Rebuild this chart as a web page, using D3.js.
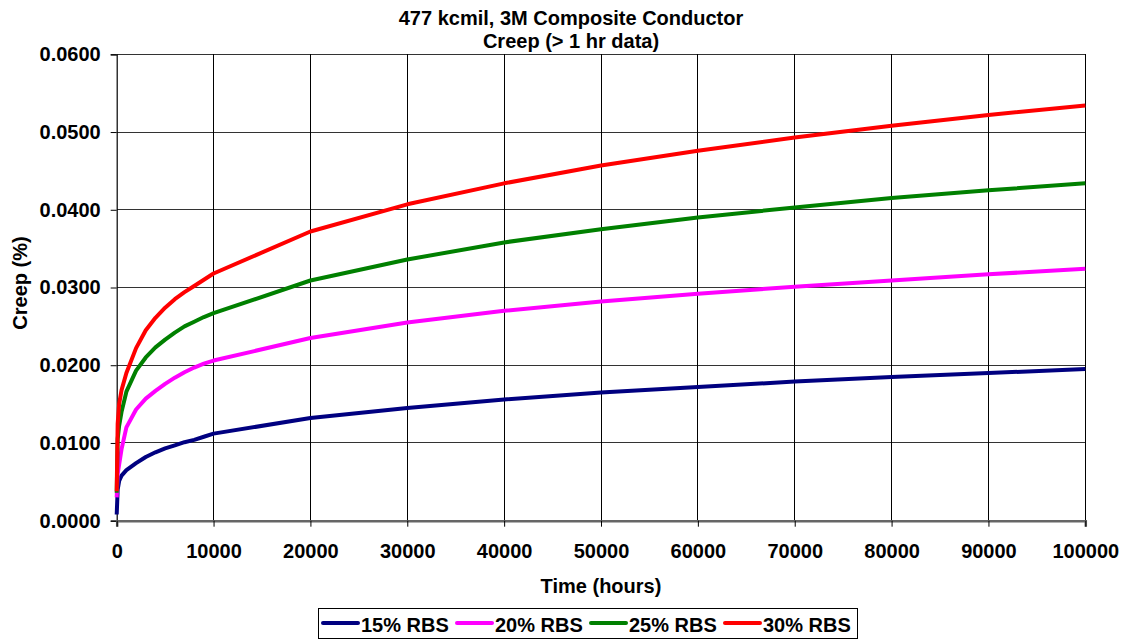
<!DOCTYPE html>
<html><head><meta charset="utf-8">
<script src="https://cdn.jsdelivr.net/npm/d3@7"></script>
<style>body{margin:0;background:#fff;} text{font-family:"Liberation Sans",Arial,sans-serif;font-weight:bold;}</style>
</head><body>
<svg id="c" width="1125" height="640"></svg>
<script>
const hours = [1,100,250,500,1000,2000,3000,4000,5000,6000,7000,8000,9000,10000,20000,30000,40000,50000,60000,70000,80000,90000,100000];
const rbs15 = [0.0008,0.0040,0.0051,0.0058,0.0065,0.0074,0.0082,0.0088,0.0093,0.0097,0.0101,0.0104,0.0108,0.0112,0.0132,0.0145,0.0156,0.0165,0.0172,0.0179,0.0185,0.0190,0.0195];
const rbs20 = [0.0030,0.0060,0.0072,0.0092,0.0120,0.0143,0.0157,0.0167,0.0176,0.0184,0.0191,0.0197,0.0202,0.0206,0.0235,0.0255,0.0270,0.0282,0.0292,0.0301,0.0309,0.0317,0.0324];
const rbs25 = [0.0036,0.0105,0.0122,0.0140,0.0166,0.0193,0.0210,0.0223,0.0233,0.0242,0.0250,0.0256,0.0262,0.0267,0.0309,0.0336,0.0358,0.0375,0.0390,0.0403,0.0415,0.0425,0.0434];
const rbs30 = [0.0038,0.0125,0.0150,0.0168,0.0190,0.0222,0.0245,0.0261,0.0274,0.0285,0.0294,0.0302,0.0310,0.0318,0.0372,0.0407,0.0434,0.0457,0.0476,0.0493,0.0508,0.0522,0.0534];
const seriesNames = ["15% RBS","20% RBS","25% RBS","30% RBS"];
const seriesColors = ["#000080","#FF00FF","#008000","#FF0000"];
const xTicks = [0,10000,20000,30000,40000,50000,60000,70000,80000,90000,100000];
const yTicks = [0,0.01,0.02,0.03,0.04,0.05,0.06];
const titleLines = ["477 kcmil, 3M Composite Conductor","Creep (> 1 hr data)"];

const FONT = "Liberation Sans, Arial, sans-serif";
const svg = d3.select("#c");
const L=116.7, R=1085.3, T=54.3, B=520.7;
const x = d3.scaleLinear().domain([0,100000]).range([L,R]);
const y = d3.scaleLinear().domain([0,0.06]).range([B,T]);

// grid
svg.append("g").selectAll("line").data(yTicks.slice(1)).join("line")
  .attr("x1",L).attr("x2",R).attr("y1",d=>y(d)).attr("y2",d=>y(d))
  .attr("stroke","#333").attr("stroke-width",1).attr("shape-rendering","crispEdges");
svg.append("g").selectAll("line").data(xTicks.slice(1)).join("line")
  .attr("y1",T).attr("y2",B).attr("x1",d=>x(d)).attr("x2",d=>x(d))
  .attr("stroke","#000").attr("stroke-width",1).attr("shape-rendering","crispEdges");

// axes
const ya = svg.append("g").attr("transform",`translate(${L},0)`)
  .call(d3.axisLeft(y).tickValues(yTicks).tickFormat(d3.format(".4f")).tickSize(6).tickPadding(10));
const xa = svg.append("g").attr("transform",`translate(0,${B})`)
  .call(d3.axisBottom(x).tickValues(xTicks).tickFormat(d=>String(d)).tickSize(6).tickPadding(17));
[ya,xa].forEach(a=>{
  a.selectAll("text").attr("font-size",20).attr("font-family",FONT).attr("font-weight","bold").attr("fill","#000");
  a.selectAll("line").attr("stroke","#000");
});
ya.select(".domain").attr("stroke","#000").attr("stroke-width",1.2);
xa.select(".domain").attr("stroke","#666").attr("stroke-width",2.5);

// lines
const allSeries = [rbs15,rbs20,rbs25,rbs30];
const line = d3.line().x((d,i)=>x(hours[i])).y(d=>y(d));
allSeries.forEach((s,k)=>{
  svg.append("path").datum(s).attr("d",line).attr("fill","none")
    .attr("stroke",seriesColors[k]).attr("stroke-width",4).attr("stroke-linejoin","round");
});

// titles
svg.append("text").attr("x",571).attr("y",25).attr("text-anchor","middle").attr("font-size",20).text(titleLines[0]);
svg.append("text").attr("x",571).attr("y",48).attr("text-anchor","middle").attr("font-size",20).text(titleLines[1]);
svg.append("text").attr("x",601).attr("y",593).attr("text-anchor","middle").attr("font-size",20).text("Time (hours)");
svg.append("text").attr("transform","translate(27,283) rotate(-90)").attr("text-anchor","middle").attr("font-size",20).text("Creep (%)");

// legend
svg.append("rect").attr("x",318.5).attr("y",608.5).attr("width",539).attr("height",30)
  .attr("fill","#fff").attr("stroke","#000").attr("stroke-width",1);
seriesNames.forEach((n,k)=>{
  const lx = 323 + k*134;
  svg.append("line").attr("x1",lx).attr("x2",lx+35).attr("y1",623).attr("y2",623)
    .attr("stroke",seriesColors[k]).attr("stroke-width",4).attr("stroke-linecap","round");
  svg.append("text").attr("x",lx+38).attr("y",631.5).attr("font-size",20).text(n);
});
</script>
</body></html>
